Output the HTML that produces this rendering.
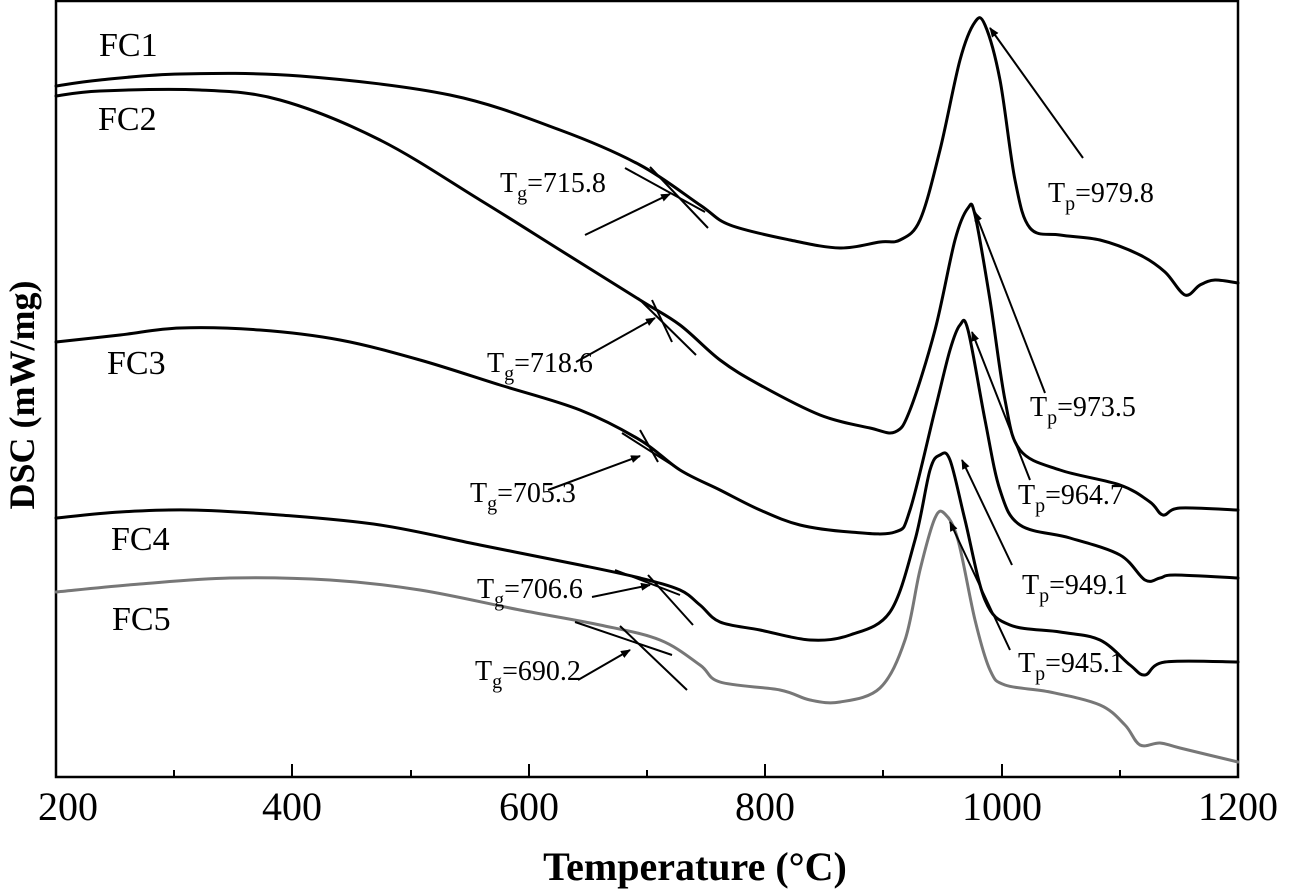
<!DOCTYPE html>
<html><head><meta charset="utf-8"><style>
html,body{margin:0;padding:0;background:#fff;}
svg{display:block;}
text{font-family:"Liberation Serif",serif;fill:#000;}
.c{fill:none;stroke:#000;stroke-width:3;stroke-linejoin:round;stroke-linecap:round;}
.t{stroke:#000;stroke-width:2;}
.lbl{font-size:28px;}
.fc{font-size:34px;}
</style></head><body>
<svg id="s" width="1291" height="891" viewBox="0 0 1291 891" xmlns="http://www.w3.org/2000/svg">
<defs><marker id="ah" markerWidth="10" markerHeight="8" refX="9" refY="4" orient="auto" markerUnits="userSpaceOnUse"><path d="M0,0 L10,4 L0,8 z"/></marker></defs>
<rect x="56" y="1" width="1182" height="776" fill="none" stroke="#000" stroke-width="2.5"/>
<g stroke="#000" stroke-width="2">
<line x1="174" y1="777" x2="174" y2="770"/><line x1="292" y1="777" x2="292" y2="764"/>
<line x1="411" y1="777" x2="411" y2="770"/><line x1="529" y1="777" x2="529" y2="764"/>
<line x1="647" y1="777" x2="647" y2="770"/><line x1="765" y1="777" x2="765" y2="764"/>
<line x1="883" y1="777" x2="883" y2="770"/><line x1="1002" y1="777" x2="1002" y2="764"/>
<line x1="1120" y1="777" x2="1120" y2="770"/>
</g>
<g font-size="40" text-anchor="middle">
<text x="68" y="820">200</text><text x="292" y="820">400</text><text x="529" y="820">600</text>
<text x="765" y="820">800</text><text x="1002" y="820">1000</text><text x="1238" y="820">1200</text>
</g>
<text x="695" y="880" font-size="40" font-weight="bold" text-anchor="middle">Temperature (°C)</text>
<text transform="translate(34,395) rotate(-90)" font-size="36" font-weight="bold" text-anchor="middle">DSC (mW/mg)</text>

<path id="p1" class="c" d=""/>
<path id="p2" class="c" d=""/>
<path id="p3" class="c" d=""/>
<path id="p4" class="c" d=""/>
<path id="p5" class="c" style="stroke:#777" d=""/>

<g class="t">
<line x1="650" y1="167" x2="708" y2="228"/><line x1="625" y1="168" x2="705" y2="212"/>
<line x1="638" y1="298" x2="696" y2="355"/><line x1="652" y1="300" x2="672" y2="342"/>
<line x1="622" y1="433" x2="688" y2="475"/><line x1="640" y1="430" x2="658" y2="462"/>
<line x1="615" y1="570" x2="680" y2="595"/><line x1="648" y1="575" x2="693" y2="625"/>
<line x1="575" y1="622" x2="672" y2="655"/><line x1="620" y1="626" x2="687" y2="690"/>
<line x1="585" y1="235" x2="670" y2="194" marker-end="url(#ah)"/>
<line x1="576" y1="362" x2="655" y2="318" marker-end="url(#ah)"/>
<line x1="548" y1="490" x2="640" y2="456" marker-end="url(#ah)"/>
<line x1="592" y1="597" x2="650" y2="585" marker-end="url(#ah)"/>
<line x1="578" y1="680" x2="630" y2="650" marker-end="url(#ah)"/>
<line x1="1083" y1="158" x2="990" y2="28" marker-end="url(#ah)"/>
<line x1="1045" y1="393" x2="975" y2="212" marker-end="url(#ah)"/>
<line x1="1030" y1="480" x2="972" y2="332" marker-end="url(#ah)"/>
<line x1="1012" y1="565" x2="962" y2="460" marker-end="url(#ah)"/>
<line x1="1010" y1="650" x2="950" y2="522" marker-end="url(#ah)"/>
</g>

<g class="fc">
<text x="99" y="56">FC1</text><text x="98" y="130">FC2</text>
<text x="107" y="374">FC3</text><text x="111" y="550">FC4</text><text x="112" y="630">FC5</text>
</g>
<g class="lbl">
<text x="500" y="192">T<tspan font-size="20" dy="8">g</tspan><tspan dy="-8">=715.8</tspan></text>
<text x="487" y="372">T<tspan font-size="20" dy="8">g</tspan><tspan dy="-8">=718.6</tspan></text>
<text x="470" y="502">T<tspan font-size="20" dy="8">g</tspan><tspan dy="-8">=705.3</tspan></text>
<text x="477" y="598">T<tspan font-size="20" dy="8">g</tspan><tspan dy="-8">=706.6</tspan></text>
<text x="475" y="680">T<tspan font-size="20" dy="8">g</tspan><tspan dy="-8">=690.2</tspan></text>
<text x="1048" y="202">T<tspan font-size="20" dy="8">p</tspan><tspan dy="-8">=979.8</tspan></text>
<text x="1030" y="416">T<tspan font-size="20" dy="8">p</tspan><tspan dy="-8">=973.5</tspan></text>
<text x="1018" y="504">T<tspan font-size="20" dy="8">p</tspan><tspan dy="-8">=964.7</tspan></text>
<text x="1022" y="594">T<tspan font-size="20" dy="8">p</tspan><tspan dy="-8">=949.1</tspan></text>
<text x="1018" y="672">T<tspan font-size="20" dy="8">p</tspan><tspan dy="-8">=945.1</tspan></text>
</g>
</svg>
<script>
var D={
p1:[56,86,100,80,180,74,300,76,450,95,560,130,640,165,700,205,730,225,790,240,840,248,880,242,900,240,920,220,940,150,960,60,975,22,985,25,1000,80,1015,180,1030,228,1060,235,1100,240,1140,255,1165,272,1185,295,1200,285,1215,280,1238,283],
p2:[56,96,100,91,200,90,280,100,380,140,480,200,560,250,640,300,680,325,720,360,760,385,820,415,870,428,895,432,910,410,935,330,955,240,968,208,975,215,990,300,1005,400,1020,450,1060,470,1120,485,1150,502,1163,515,1180,508,1238,510],
p3:[56,342,120,335,180,328,260,330,340,340,420,360,500,385,580,410,640,440,680,470,720,490,760,510,800,525,850,532,895,532,910,510,935,410,950,350,960,325,968,330,985,420,1000,490,1020,525,1070,538,1120,555,1145,580,1160,578,1175,575,1238,578],
p4:[56,518,120,512,190,510,280,515,380,525,480,545,580,565,640,578,680,590,700,605,720,622,760,630,810,640,850,635,890,612,915,540,930,470,940,455,950,460,965,520,985,600,1010,625,1060,632,1100,640,1130,665,1145,675,1165,662,1238,662],
p5:[56,592,140,584,230,578,330,580,420,590,520,610,600,625,660,640,700,665,720,682,780,690,810,700,840,702,880,688,905,640,920,570,935,518,945,514,958,540,975,620,990,670,1005,685,1050,692,1100,705,1125,725,1140,745,1160,743,1180,748,1238,762]};
for(var k in D){var a=D[k],p=[];for(var i=0;i<a.length;i+=2)p.push([a[i],a[i+1]]);
var d="M"+p[0][0]+","+p[0][1];
for(var i=0;i<p.length-1;i++){var p0=p[i>0?i-1:0],p1=p[i],p2=p[i+1],p3=p[i+2<p.length?i+2:i+1];
var c1x=p1[0]+(p2[0]-p0[0])/6,c1y=p1[1]+(p2[1]-p0[1])/6,c2x=p2[0]-(p3[0]-p1[0])/6,c2y=p2[1]-(p3[1]-p1[1])/6;
d+=" C"+c1x.toFixed(1)+","+c1y.toFixed(1)+" "+c2x.toFixed(1)+","+c2y.toFixed(1)+" "+p2[0]+","+p2[1];}
document.getElementById(k).setAttribute("d",d);}
</script>
</body></html>
